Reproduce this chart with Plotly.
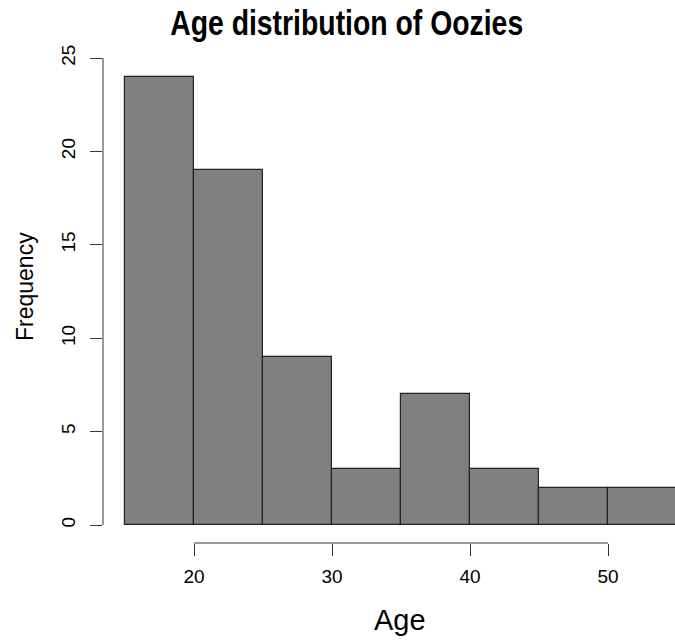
import plotly.graph_objects as go

# Data
bin_starts = [15, 20, 25, 30, 35, 40, 45, 50]
bin_width = 5
counts = [24, 19, 9, 3, 7, 3, 2, 2]
x_ticks = [20, 30, 40, 50]
y_ticks = [0, 5, 10, 15, 20, 25]
title_text = "Age distribution of Oozies"
x_title = "Age"
y_title = "Frequency"

W, H = 675, 641
L, R, T, B = 103, 0, 58, 98
pw, ph = W - L - R, H - T - B

def px_x(p):
    return (p - L) / pw

def px_y(p):
    return (H - B - p) / ph

fig = go.Figure()
fig.add_trace(go.Bar(
    x=bin_starts, y=counts, width=[bin_width] * len(counts), offset=0,
    marker=dict(color="#808080", line=dict(color="#222222", width=1.2)),
    hoverinfo="skip",
))

axis_font = dict(family="Liberation Sans, Arial, sans-serif", size=19, color="#000")

fig.update_layout(
    width=W, height=H,
    margin=dict(l=L, r=R, t=T, b=B, pad=0),
    paper_bgcolor="white", plot_bgcolor="white",
    bargap=0, showlegend=False,
    xaxis=dict(range=[13.4, 13.4 + pw / 13.8], tickvals=x_ticks, ticks="outside",
               ticklen=12, tickwidth=1, tickcolor="#333", showgrid=False,
               zeroline=False, showline=False, tickfont=axis_font,
               ticklabelstandoff=4),
    yaxis=dict(range=[-0.96, 25.0], tickvals=y_ticks, ticks="outside",
               ticklen=12, tickwidth=1, tickcolor="#333", showgrid=False,
               zeroline=False, showline=False, tickfont=axis_font,
               tickangle=-90, ticklabelstandoff=7),
    shapes=[
        dict(type="line", xref="x", yref="paper", x0=x_ticks[0], x1=x_ticks[-1],
             y0=0, y1=0, line=dict(color="#333", width=1)),
        dict(type="line", xref="paper", yref="y", x0=0, x1=0,
             y0=y_ticks[0], y1=y_ticks[-1], line=dict(color="#333", width=1)),
    ],
    annotations=[
        dict(text=title_text, xref="paper", yref="paper",
             x=px_x(346.5), y=px_y(23), xanchor="center", yanchor="middle",
             showarrow=False,
             font=dict(family="Liberation Sans, Arial, sans-serif",
                       size=34.5, color="#000", weight="bold")),
        dict(text=x_title, xref="paper", yref="paper",
             x=px_x(400), y=px_y(620), xanchor="center", yanchor="middle",
             showarrow=False,
             font=dict(family="Liberation Sans, Arial, sans-serif", size=29, color="#000")),
        dict(text=y_title, xref="paper", yref="paper", textangle=-90,
             x=px_x(25), y=px_y(287), xanchor="center", yanchor="middle",
             showarrow=False,
             font=dict(family="Liberation Sans, Arial, sans-serif", size=23, color="#000")),
    ],
)

post = """
document.body.style.margin = '0';
document.body.style.overflow = 'hidden';
var gd = document.getElementById('{plot_id}');
function condenseTitle() {
  var t = gd.querySelector('.annotation-text');
  if (t) {
    t.setAttribute('textLength', '353');
    t.setAttribute('lengthAdjust', 'spacingAndGlyphs');
  }
}
condenseTitle();
setTimeout(condenseTitle, 30);
setTimeout(condenseTitle, 200);
"""

fig.write_html("out.html", post_script=post, config={"displayModeBar": False})
